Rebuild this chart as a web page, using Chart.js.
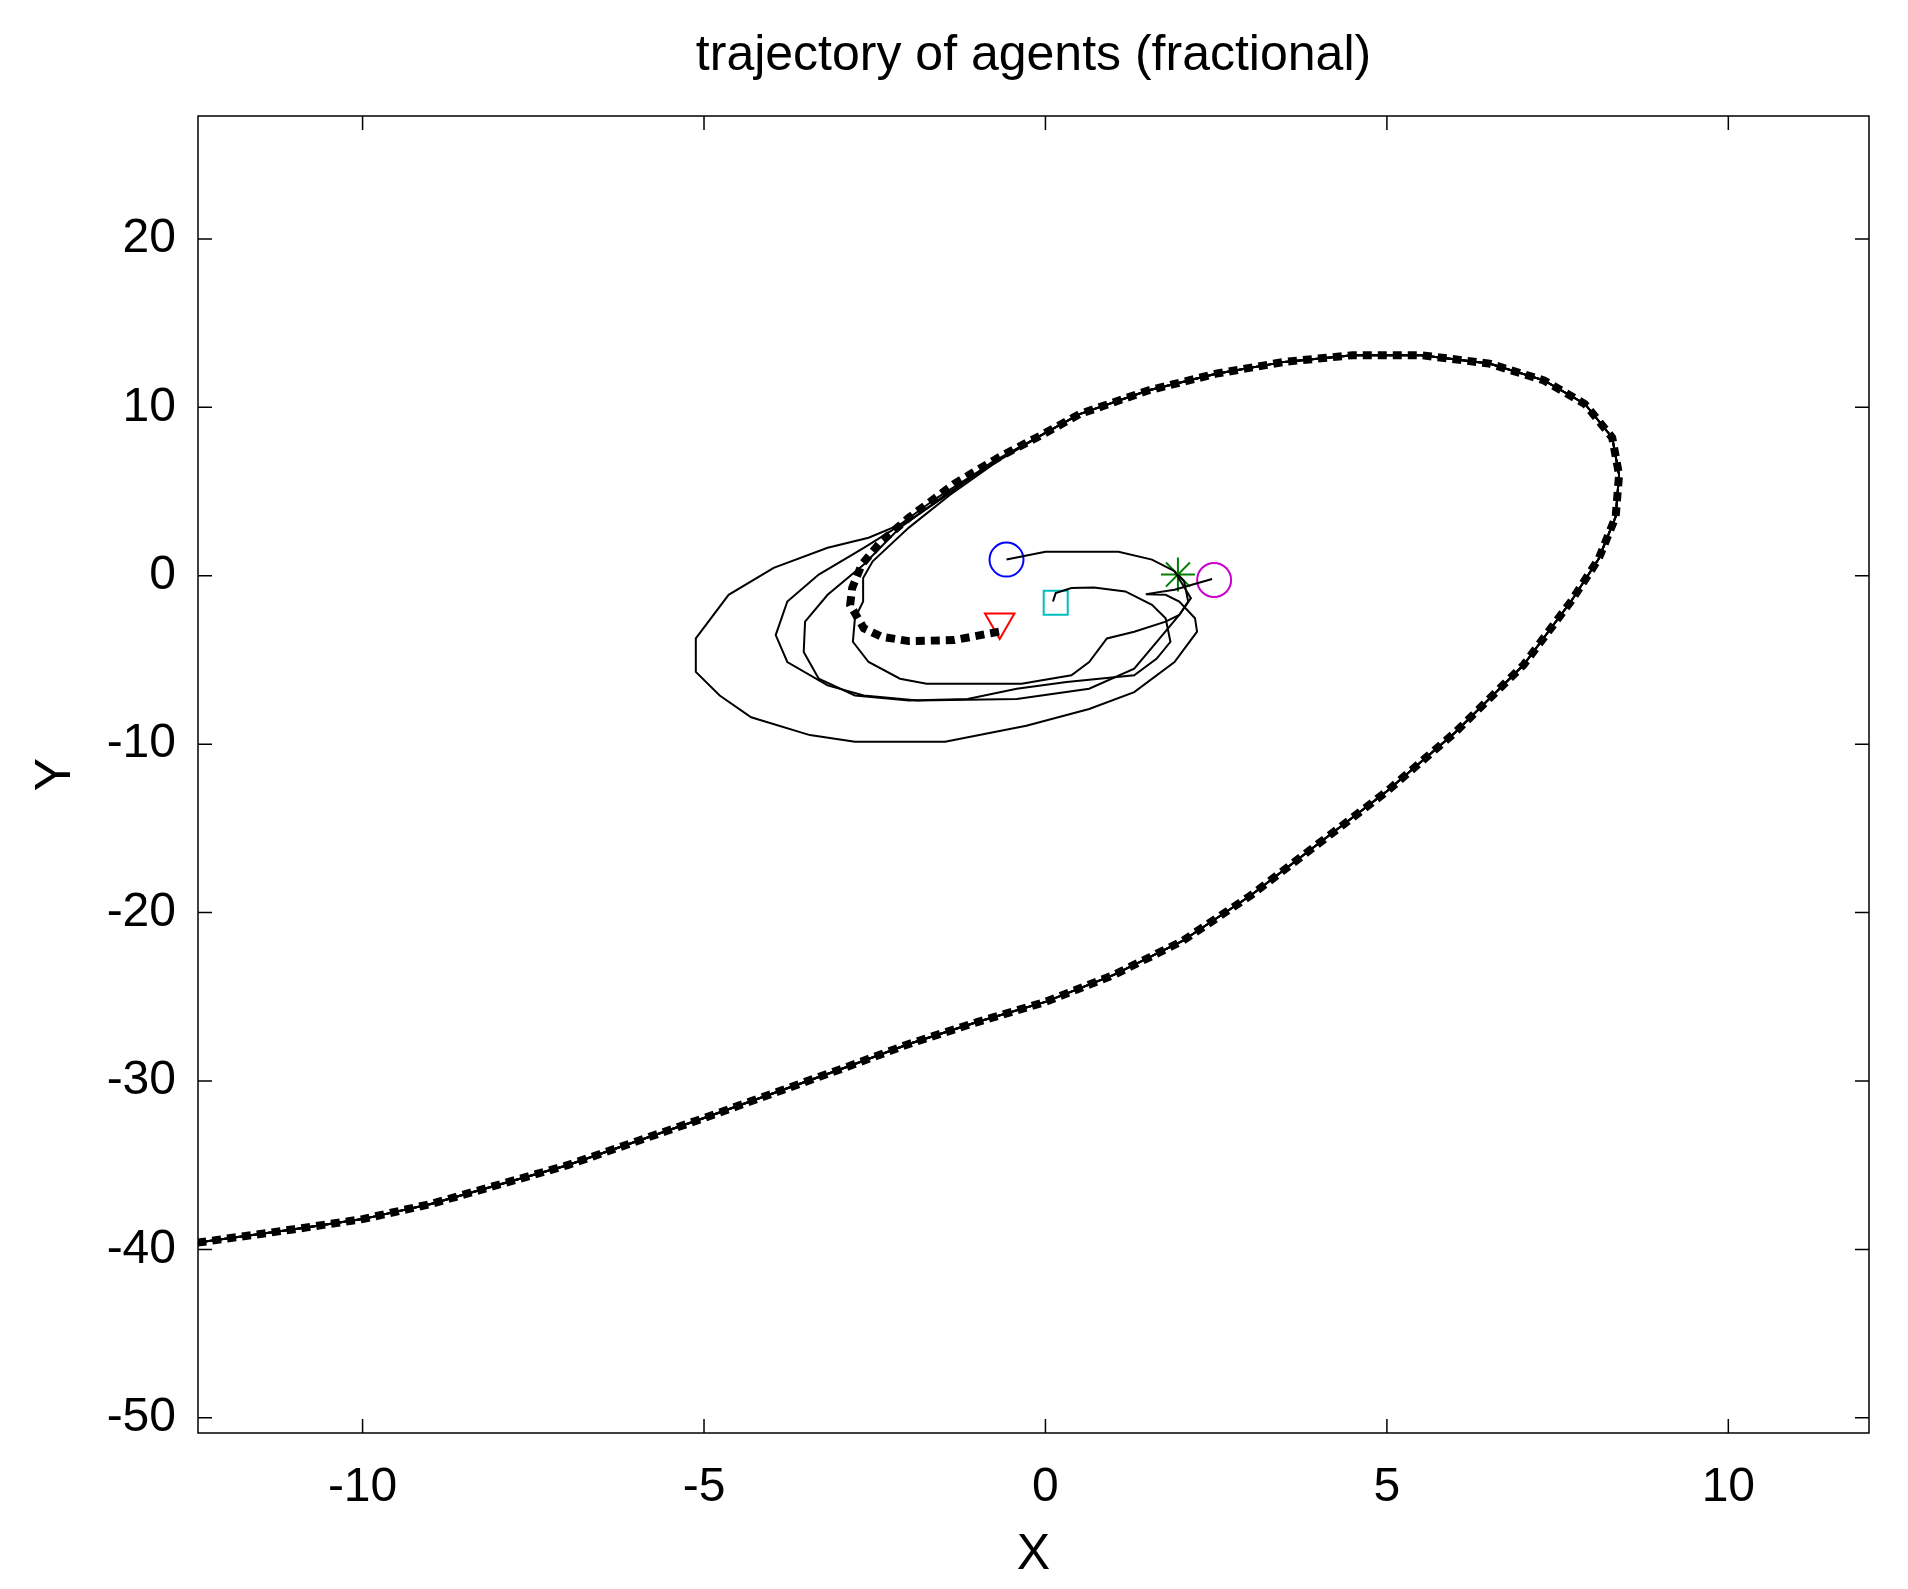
<!DOCTYPE html>
<html><head><meta charset="utf-8">
<script src="https://cdn.jsdelivr.net/npm/chart.js@4"></script>
<style>html,body{margin:0;padding:0;background:#fff}#w{width:1908px;height:1589px}</style>
</head><body><div id="w"><canvas id="c"></canvas></div>
<script>
const xTicks = [-10, -5, 0, 5, 10];
const yTicks = [-50, -40, -30, -20, -10, 0, 10, 20];
const titleText = 'trajectory of agents (fractional)';

// shared outer spiral (after the agents merge)
const spiral = [[-0.02,8.44],[0.5,9.6],[1.5,11.0],[2.5,12.0],[3.5,12.7],[4.5,13.1],[5.5,13.1],[6.5,12.6],[7.3,11.6],[7.9,10.2],[8.3,8.2],[8.4,6.0],[8.35,3.5],[8.1,1.0],[7.7,-1.5],[7.0,-5.3],[6.0,-9.3],[5.0,-12.8],[4.0,-15.9],[3.0,-19.0],[2.0,-21.7],[1.0,-23.7],[0.0,-25.3],[-1.0,-26.5],[-2.0,-27.8],[-3.0,-29.3],[-5.0,-32.2],[-7.0,-35.0],[-9.0,-37.3],[-10.0,-38.2],[-11.0,-38.8],[-12.6,-39.7]];

const agentBlue = [[-0.57,0.96],[0.0,1.42],[1.07,1.42],[1.56,0.96],[1.89,0.27],[2.13,-1.33],[1.96,-2.33],[1.63,-3.92],[1.30,-5.51],[0.64,-6.71],[-0.42,-7.31],[-1.87,-7.41],[-2.66,-7.11],[-3.19,-6.51],[-3.78,-5.12],[-3.95,-3.52],[-3.78,-1.53],[-3.32,0.07],[-2.66,1.66],[-2.26,2.66],[-1.6,4.6],[-0.9,6.4]];
const agentCyan = [[0.11,-1.53],[0.15,-1.03],[0.38,-0.73],[0.71,-0.69],[1.17,-0.93],[1.56,-1.73],[1.76,-2.52],[1.83,-3.92],[1.63,-4.92],[1.30,-5.91],[0.31,-6.31],[-0.42,-6.71],[-1.14,-7.31],[-2.00,-7.41],[-2.79,-7.11],[-3.32,-6.11],[-3.54,-4.52],[-3.52,-2.72],[-3.19,-1.13],[-2.66,0.67],[-2.13,2.86],[-1.5,4.7],[-0.8,6.6]];
const agentMagenta = [[2.44,-0.19],[1.89,-0.83],[1.47,-1.09],[1.76,-1.13],[1.96,-1.53],[2.19,-2.52],[2.22,-3.32],[1.89,-5.12],[1.30,-6.91],[0.64,-7.91],[-0.28,-8.90],[-1.47,-9.86],[-2.79,-9.86],[-3.45,-9.46],[-4.31,-8.40],[-4.77,-7.11],[-5.12,-5.71],[-5.12,-3.72],[-4.64,-1.13],[-3.98,0.47],[-3.19,1.66],[-2.59,2.26],[-2.00,3.26],[-1.4,4.9],[-0.8,6.7]];
const agentGreen = [[1.94,0.07],[2.03,-0.33],[2.09,-1.53],[1.96,-2.33],[1.76,-2.72],[1.30,-3.32],[0.90,-3.72],[0.64,-5.12],[0.38,-5.91],[-0.35,-6.41],[-1.74,-6.41],[-2.13,-6.11],[-2.59,-5.12],[-2.82,-3.92],[-2.79,-2.52],[-2.67,-1.53],[-2.67,-0.13],[-2.53,0.86],[-2.00,2.86],[-1.4,4.8],[-0.7,6.8]];
const agentRed = [[-0.68,-3.32],[-1.34,-3.82],[-2.00,-3.88],[-2.40,-3.62],[-2.66,-3.12],[-2.86,-1.73],[-2.83,-0.73],[-2.69,0.67],[-2.40,2.06],[-2.00,3.45],[-1.34,5.45],[-0.68,7.04]];

const markers = [
  {p:[-0.57,0.96], style:'circle', color:'#0000ff', rot:0},
  {p:[2.47,-0.25], style:'circle', color:'#cc00cc', rot:0},
  {p:[1.94,0.07], style:'star', color:'#007f00', rot:0},
  {p:[0.15,-1.6], style:'rect', color:'#00bfbf', rot:0},
  {p:[-0.67,-2.75], style:'triangle', color:'#ff0000', rot:180}
];

const FONT = 'Liberation Sans, Arial';
const pts = a => a.map(([x,y]) => ({x,y}));
const thin = (a) => ({data: pts(a.concat(spiral)), borderColor:'#000', borderWidth:2, pointRadius:0, tension:0, fill:false});
const datasets = [
  thin(agentBlue), thin(agentCyan), thin(agentMagenta), thin(agentGreen),
  {data: pts(agentRed.concat(spiral)), borderColor:'#000', borderWidth:8, borderDash:[9,6], pointRadius:0, tension:0, fill:false}
];
markers.forEach(m => datasets.push({data:[{x:m.p[0],y:m.p[1]}], showLine:false, pointStyle:m.style, pointRotation:m.rot, pointRadius:17, borderColor:m.color, backgroundColor:'rgba(0,0,0,0)', borderWidth:2, pointHoverRadius:17}));

const boxTicks = {
  id:'boxTicks',
  afterDraw(chart){
    const {ctx, chartArea:a, scales:{x,y}} = chart;
    ctx.save(); ctx.strokeStyle='#000'; ctx.lineWidth=1.5;
    ctx.strokeRect(a.left, a.top, a.right-a.left, a.bottom-a.top);
    const L=14;
    ctx.beginPath();
    xTicks.forEach(v=>{const px=x.getPixelForValue(v); ctx.moveTo(px,a.bottom); ctx.lineTo(px,a.bottom-L); ctx.moveTo(px,a.top); ctx.lineTo(px,a.top+L);});
    yTicks.forEach(v=>{const py=y.getPixelForValue(v); ctx.moveTo(a.left,py); ctx.lineTo(a.left+L,py); ctx.moveTo(a.right,py); ctx.lineTo(a.right-L,py);});
    ctx.stroke();
    ctx.fillStyle='#000'; ctx.font='50px '+FONT; ctx.textAlign='center'; ctx.textBaseline='middle';
    ctx.fillText(titleText, (a.left+a.right)/2, 56);
    ctx.restore();
  }
};

new Chart(document.getElementById('c'), {
  type:'scatter',
  data:{datasets},
  plugins:[boxTicks],
  options:{
    responsive:true, maintainAspectRatio:false, animation:false,
    layout:{padding:{left:22,right:39,top:116,bottom:0}},
    plugins:{legend:{display:false}, tooltip:{enabled:false}, title:{display:false}},
    datasets:{scatter:{showLine:true}},
    scales:{
      x:{type:'linear', min:-12.41, max:12.06,
        afterBuildTicks:s=>{s.ticks=xTicks.map(v=>({value:v}));},
        afterFit:s=>{s.height=156;},
        grid:{display:false}, border:{display:false},
        ticks:{color:'#000', padding:18, font:{family:FONT, size:48}},
        title:{display:true, text:'X', color:'#000', font:{family:FONT, size:50}, padding:{top:0}}},
      y:{type:'linear', min:-50.9, max:27.3,
        afterBuildTicks:s=>{s.ticks=yTicks.map(v=>({value:v}));},
        afterFit:s=>{s.width=176;},
        grid:{display:false}, border:{display:false},
        ticks:{color:'#000', padding:14, font:{family:FONT, size:48}},
        title:{display:true, text:'Y', color:'#000', font:{family:FONT, size:50}, padding:{bottom:10}}}
    }
  }
});
</script></body></html>
